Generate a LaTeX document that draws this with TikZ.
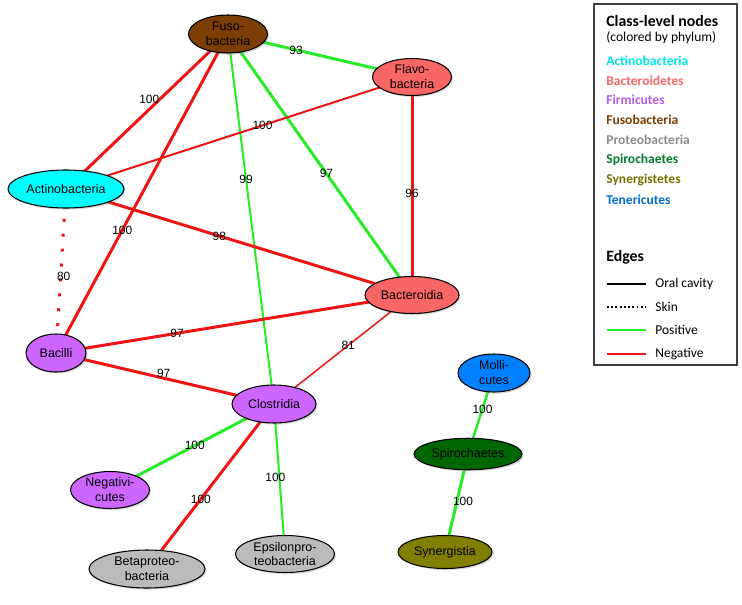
\documentclass[tikz,border=0pt]{standalone}
\usepackage{fontspec}
\setmainfont{Liberation Sans}
\newfontfamily\legfont{Carlito}
\usetikzlibrary{shapes,shadows,backgrounds}
\usepackage{xcolor}

\definecolor{fusocol}{RGB}{125,62,5}
\definecolor{bactcol}{RGB}{250,102,102}
\definecolor{actcol}{RGB}{0,255,255}
\definecolor{firmcol}{RGB}{204,102,255}
\definecolor{protcol}{RGB}{187,187,187}
\definecolor{spirocol}{RGB}{0,102,0}
\definecolor{syncol}{RGB}{128,128,0}
\definecolor{tenercol}{RGB}{0,128,255}
\definecolor{edgegreen}{RGB}{40,235,40}
\definecolor{edgered}{RGB}{238,20,20}

\tikzset{
  cls/.style={ellipse, draw=black, line width=0.6pt, inner sep=0pt, align=center,
    font=\fontsize{7.1}{8.5}\selectfont,
    drop shadow={shadow xshift=0.9pt, shadow yshift=-0.9pt, opacity=0.3}},
  sz/.style 2 args={minimum width=#1cm, minimum height=#2cm},
  posedge/.style={draw=edgegreen, line width=1.7pt},
  negedge/.style={draw=edgered, line width=1.7pt},
  elab/.style={font=\fontsize{6.8}{8}\selectfont, inner sep=0pt},
  leghead/.style={anchor=west, inner sep=0pt, font=\legfont\bfseries\fontsize{9}{11}\selectfont},
  legtext/.style={anchor=west, inner sep=0pt, font=\legfont\fontsize{7.7}{9}\selectfont},
  legbold/.style={anchor=west, inner sep=0pt, font=\legfont\bfseries\fontsize{7.7}{9}\selectfont}
}

\begin{document}
\begin{tikzpicture}[x=0.02cm,y=-0.02cm]

\useasboundingbox (0,0) rectangle (742,604);

% class-level nodes
\node[cls, fill=fusocol, sz={1.58}{0.76}] (fuso) at (228,34) {Fuso-\\bacteria};
\node[cls, fill=bactcol, sz={1.58}{0.74}] (flavo) at (412,77) {Flavo-\\bacteria};
\node[cls, fill=actcol, sz={2.32}{0.76}] (actino) at (66,189) {Actinobacteria};
\node[cls, fill=bactcol, sz={1.88}{0.74}] (bacteroidia) at (412,295) {Bacteroidia};
\node[cls, fill=firmcol, sz={1.20}{0.76}] (bacilli) at (56,353) {Bacilli};
\node[cls, fill=firmcol, sz={1.68}{0.76}] (clostridia) at (274,404) {Clostridia};
\node[cls, fill=firmcol, sz={1.58}{0.74}] (negativi) at (110,490) {Negativi-\\cutes};
\node[cls, fill=protcol, sz={2.32}{0.76}] (betaprot) at (147,569) {Betaproteo-\\bacteria};
\node[cls, fill=protcol, sz={1.98}{0.74}] (epsilon) at (285,554) {Epsilonpro-\\teobacteria};
\node[cls, fill=tenercol, sz={1.44}{0.76}] (molli) at (494,373) {Molli-\\cutes};
\node[cls, fill=spirocol, sz={2.16}{0.63}] (spiro) at (468,454) {Spirochaetes};
\node[cls, fill=syncol, sz={1.88}{0.66}] (synerg) at (445,552) {Synergistia};

% edges
\begin{scope}[on background layer]
\draw[posedge] (fuso.center) -- node[elab, pos=0.37] {93} (flavo.center);
\draw[negedge] (fuso.center) -- node[elab, pos=0.455, shift={(-5,-5)}] {100} (actino.center);
\draw[negedge] (fuso.center) -- node[elab, pos=0.615] {100} (bacilli.center);
\draw[posedge, line width=1.15pt] (fuso.center) -- node[elab, pos=0.394] {99} (clostridia.center);
\draw[posedge] (fuso.center) -- node[elab, pos=0.535] {97} (bacteroidia.center);
\draw[negedge, line width=1.15pt] (flavo.center) -- node[elab, pos=0.432] {100} (actino.center);
\draw[negedge] (flavo.center) -- node[elab, pos=0.532] {96} (bacteroidia.center);
\draw[negedge] (actino.center) -- node[elab, pos=0.443] {98} (bacteroidia.center);
\draw[negedge, dash pattern=on 1.7pt off 6.8pt] (actino.center) -- node[elab, pos=0.53, shift={(3,0)}] {80} (bacilli.center);
\draw[negedge] (bacilli.center) -- node[elab, pos=0.34] {97} (bacteroidia.center);
\draw[negedge] (bacilli.center) -- node[elab, pos=0.494, shift={(0,-5)}] {97} (clostridia.center);
\draw[negedge, line width=0.85pt] (clostridia.center) -- node[elab, pos=0.538] {81} (bacteroidia.center);
\draw[posedge] (clostridia.center) -- node[elab, pos=0.483] {100} (negativi.center);
\draw[negedge] (clostridia.center) -- node[elab, pos=0.576] {100} (betaprot.center);
\draw[posedge, line width=1.15pt] (clostridia.center) -- node[elab, pos=0.487, shift={(-4,0)}] {100} (epsilon.center);
\draw[posedge, line width=1.4pt] (molli.center) -- node[elab, pos=0.444] {100} (spiro.center);
\draw[posedge] (spiro.center) -- node[elab, pos=0.48, shift={(6,0)}] {100} (synerg.center);
\end{scope}

% legend
\draw[line width=0.6pt, black!75] (594,4) rectangle (737,365);
\node[leghead] (leghd) at (606,21) {Class-level nodes};
\node[legtext] (legsub) at (606,38) {(colored by phylum)};
\node[legbold, text=actcol!90!black] (lgact) at (606,61) {Actinobacteria};
\node[legbold, text=bactcol] (lgbact) at (606,81) {Bacteroidetes};
\node[legbold, text=firmcol!90!black] (lgfirm) at (606,100) {Firmicutes};
\node[legbold, text=fusocol] (lgfuso) at (606,120) {Fusobacteria};
\node[legbold, text=black!45] (lgprot) at (606,140) {Proteobacteria};
\node[legbold, text=spirocol!85!cyan] (lgspiro) at (606,160) {Spirochaetes};
\node[legbold, text=syncol!90!black] (lgsyn) at (606,180) {Synergistetes};
\node[legbold, text=tenercol!85!black] (lgtener) at (606,200) {Tenericutes};

\node[leghead] (legedges) at (606,257) {Edges};
\draw[line width=1.1pt, black] (607,284) -- (646,284);
\node[legtext] (lgoral) at (655,284) {Oral cavity};
\draw[line width=1.1pt, black, dash pattern=on 1.1pt off 1.3pt] (607,307) -- (646,307);
\node[legtext] (lgskin) at (655,307) {Skin};
\draw[line width=1.1pt, edgegreen] (607,330) -- (646,330);
\node[legtext] (lgpos) at (655,330) {Positive};
\draw[line width=1.1pt, edgered] (607,354) -- (646,354);
\node[legtext] (lgneg) at (655,354) {Negative};

\end{tikzpicture}
\end{document}
